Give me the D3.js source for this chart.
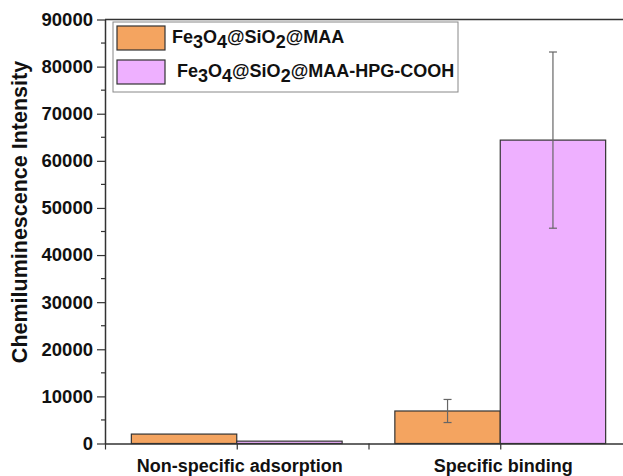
<!DOCTYPE html>
<html><head><meta charset="utf-8">
<script src="https://cdn.jsdelivr.net/npm/d3@7"></script>
<style>body{margin:0;background:#fff}svg{display:block;font-family:"Liberation Sans",Arial,sans-serif}</style>
</head><body><svg id="c" width="623" height="476"></svg>
<script>
const categories = ["Non-specific adsorption", "Specific binding"];
const seriesNames = ["Fe3O4@SiO2@MAA", "Fe3O4@SiO2@MAA-HPG-COOH"];
const seriesA = [2000, 6900];
const seriesB = [500, 64400];
const errA = [0, 2450];
const errB = [0, 18700];
const yTicks = [0,10000,20000,30000,40000,50000,60000,70000,80000,90000];
const colors = ["#F4A460", "#EEB0FF"];

const svg = d3.select("#c");
const x = d3.scaleLinear().domain([0.5, 2.5]).range([105, 632]);
const y = d3.scaleLinear().domain([0, 90000]).range([443.5, 19.5]);
const bw = 0.4;

svg.append("line").attr("x1",105).attr("x2",623).attr("y1",y(90000)).attr("y2",y(90000)).attr("stroke","#333").attr("stroke-width",1.5);

const series = [seriesA, seriesB];
const errs = [errA, errB];
series.forEach((vals, s) => {
  vals.forEach((v, i) => {
    const x0 = s === 0 ? x(i+1-bw) : x(i+1);
    const x1 = s === 0 ? x(i+1) : x(i+1+bw);
    svg.append("rect").attr("x", x0).attr("y", y(v)).attr("width", x1-x0).attr("height", y(0)-y(v))
      .attr("fill", colors[s]).attr("stroke", "#333").attr("stroke-width", 1.2);
  });
});
series.forEach((vals, s) => {
  vals.forEach((v, i) => {
    const e = errs[s][i];
    if (!e) return;
    const cx = s === 0 ? x(i+1-bw/2) : x(i+1+bw/2);
    const g = svg.append("g").attr("stroke","#666").attr("stroke-width",1.2);
    g.append("line").attr("x1",cx).attr("x2",cx).attr("y1",y(v+e)).attr("y2",y(v-e));
    g.append("line").attr("x1",cx-4).attr("x2",cx+4).attr("y1",y(v+e)).attr("y2",y(v+e));
    g.append("line").attr("x1",cx-4).attr("x2",cx+4).attr("y1",y(v-e)).attr("y2",y(v-e));
  });
});

const yAx = svg.append("g").attr("transform","translate(105,0)")
  .call(d3.axisLeft(y).tickValues(yTicks).tickFormat(d3.format("d")).tickSize(8).tickSizeOuter(0));
yAx.select(".domain").attr("stroke","#333").attr("stroke-width",1.5);
yAx.selectAll(".tick line").attr("stroke","#333").attr("stroke-width",1.2);
yAx.selectAll("text").attr("font-size",18.5).attr("font-weight","bold").attr("fill","#111").attr("x",-12);
const minors = yTicks.slice(0,-1).map(t => t + 5000);
svg.append("g").selectAll("line").data(minors).join("line")
  .attr("x1",101).attr("x2",105).attr("y1",d=>y(d)).attr("y2",d=>y(d)).attr("stroke","#333").attr("stroke-width",1.2);

const xAx = svg.append("g").attr("transform",`translate(0,${y(0)})`)
  .call(d3.axisBottom(x).tickValues([0.5,1,1.5,2,2.5]).tickFormat("").tickSize(6).tickSizeOuter(0));
xAx.select(".domain").attr("stroke","#333").attr("stroke-width",1.5);
xAx.selectAll(".tick line").attr("stroke","#333").attr("stroke-width",1.2);
svg.append("g").selectAll("text").data(categories).join("text")
  .attr("x",(d,i)=>x(i+1)+3).attr("y",472).attr("text-anchor","middle")
  .attr("font-size",18).attr("font-weight","bold").attr("fill","#111").text(d=>d);

svg.append("text").attr("transform","translate(27,212) rotate(-90)").attr("text-anchor","middle")
  .attr("font-size",21.5).attr("font-weight","bold").attr("fill","#111").text("Chemiluminescence Intensity");

svg.append("rect").attr("x",113).attr("y",22).attr("width",345).attr("height",70)
  .attr("fill","#fff").attr("stroke","#888").attr("stroke-width",1);
const legY = [26, 60];
const textX = [172, 177];
seriesNames.forEach((n, i) => {
  svg.append("rect").attr("x",117).attr("y",legY[i]).attr("width",48).attr("height",24)
    .attr("fill",colors[i]).attr("stroke","#333").attr("stroke-width",1.2);
  const t = svg.append("text").attr("x",textX[i]).attr("y",legY[i]+17).attr("font-size",18)
    .attr("font-weight","bold").attr("fill","#111");
  const parts = n.match(/[A-Za-z@\-]+|\d+/g);
  let shift = 0;
  parts.forEach(p => {
    const sub = /^\d+$/.test(p);
    const target = sub ? 5 : 0;
    t.append("tspan").attr("dy", target - shift).text(p);
    shift = target;
  });
});
</script></body></html>
